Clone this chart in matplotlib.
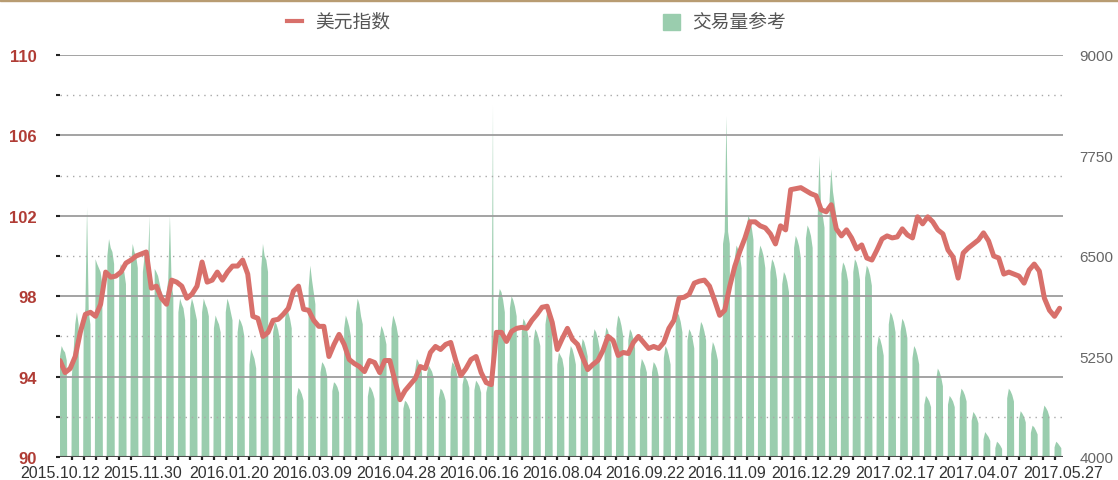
import numpy as np
import pandas as pd
import matplotlib
matplotlib.use("Agg")
import matplotlib.pyplot as plt
from matplotlib.lines import Line2D
from matplotlib.patches import Rectangle

# ---------------- data ----------------
start_date = "2015-10-12"
end_date = "2017-05-27"

x_labels = ["2015.10.12", "2015.11.30", "2016.01.20", "2016.03.09", "2016.04.28",
            "2016.06.16", "2016.08.04", "2016.09.22", "2016.11.09", "2016.12.29",
            "2017.02.17", "2017.04.07", "2017.05.27"]

# US dollar index, read every 3 days from 2015-10-12
dxy_values = [
    94.8, 94.2, 94.4, 95.0, 96.2, 97.1, 97.2, 97.0, 97.6, 99.2,
    98.95, 99.0, 99.2, 99.65, 99.8, 100.0, 100.1, 100.2, 98.4, 98.5,
    97.9, 97.6, 98.8, 98.7, 98.5, 97.9, 98.1, 98.5, 99.7, 98.7,
    98.8, 99.2, 98.8, 99.2, 99.5, 99.5, 99.8, 99.1, 97.0, 96.9,
    96.0, 96.2, 96.8, 96.85, 97.1, 97.4, 98.25, 98.5, 97.35, 97.3,
    96.8, 96.5, 96.5, 95.0, 95.6, 96.1, 95.6, 94.85, 94.65, 94.5,
    94.25, 94.8, 94.7, 94.2, 94.8, 94.8, 93.8, 92.85, 93.3, 93.6,
    93.9, 94.5, 94.4, 95.2, 95.5, 95.35, 95.6, 95.7, 94.8, 94.05,
    94.4, 94.85, 95.0, 94.2, 93.7, 93.6, 96.2, 96.2, 95.75, 96.25,
    96.4, 96.45, 96.4, 96.8, 97.1, 97.45, 97.5, 96.7, 95.35, 95.9,
    96.4, 95.85, 95.6, 94.95, 94.35, 94.6, 94.8, 95.3, 96.0, 95.8,
    95.05, 95.2, 95.15, 95.7, 96.0, 95.7, 95.4, 95.5, 95.4, 95.7,
    96.4, 96.8, 97.9, 97.95, 98.1, 98.65, 98.75, 98.8, 98.5, 97.8,
    97.05, 97.3, 98.5, 99.5, 100.25, 100.9, 101.7, 101.7, 101.5, 101.4,
    101.1, 100.6, 101.5, 101.3, 103.3, 103.35, 103.4, 103.25, 103.1, 103.0,
    102.3, 102.2, 102.55, 101.35, 101.0, 101.3, 100.9, 100.35, 100.55, 99.9,
    99.8, 100.3, 100.85, 101.0, 100.9, 100.95, 101.35, 101.05, 100.9, 101.95,
    101.6, 101.95, 101.7, 101.3, 101.1, 100.3, 99.95, 98.9, 100.15, 100.4,
    100.6, 100.8, 101.15, 100.75, 100.0, 99.9, 99.1, 99.2, 99.1, 99.0,
    98.65, 99.3, 99.6, 99.25, 97.9, 97.3, 97.0, 97.4,
]

# trading volume reference, Monday..Friday of every week from 2015-10-12
vol_weeks = [
    [5250, 5380, 5330, 5300, 5200], [5000, 5300, 5650, 5800, 5650],
    [5700, 5840, 7100, 5800, 5650], [6460, 6400, 6350, 6300, 6150],
    [6500, 6710, 6600, 6550, 6400], [6250, 6400, 6350, 6300, 6150],
    [6400, 6650, 6550, 6500, 6350], [6300, 6500, 6450, 6400, 7000],
    [6340, 6300, 6250, 6150, 6050], [6050, 6200, 7000, 6150, 6000],
    [5800, 5970, 5900, 5850, 5700], [5850, 5970, 5900, 5800, 5700],
    [5800, 5970, 5900, 5850, 5750], [5600, 5760, 5700, 5650, 5550],
    [5800, 5970, 5900, 5800, 5700], [5550, 5720, 5680, 5620, 5500],
    [5150, 5340, 5280, 5220, 5100], [6350, 6650, 6500, 6450, 6300],
    [5550, 5680, 5650, 5580, 5450], [5700, 5880, 5800, 5720, 5600],
    [4750, 4860, 4830, 4780, 4700], [6100, 6380, 6200, 6050, 5900],
    [5050, 5180, 5150, 5100, 5000], [4820, 4930, 4910, 4870, 4800],
    [5600, 5760, 5700, 5620, 5500], [5800, 5970, 5900, 5750, 5650],
    [4750, 4880, 4850, 4800, 4720], [5480, 5630, 5580, 5500, 5400],
    [5600, 5760, 5700, 5620, 5500], [4600, 4700, 4680, 4640, 4580],
    [5080, 5220, 5180, 5130, 5050], [5030, 5140, 5100, 5060, 4980],
    [4730, 4850, 4830, 4780, 4700], [5050, 5180, 5150, 5100, 5000],
    [4900, 5010, 4980, 4940, 4860], [4830, 4950, 4920, 4880, 4800],
    [4800, 4900, 4950, 4880, 8370], [5950, 6090, 6050, 5950, 5800],
    [5850, 6000, 5950, 5870, 5750], [5560, 5720, 5680, 5600, 5480],
    [5450, 5590, 5550, 5480, 5380], [5650, 5800, 5760, 5680, 5550],
    [5150, 5300, 5260, 5220, 5100], [5230, 5380, 5340, 5260, 5150],
    [5320, 5470, 5430, 5350, 5250], [5450, 5590, 5550, 5470, 5350],
    [5460, 5610, 5570, 5480, 5370], [5600, 5760, 5720, 5630, 5500],
    [5450, 5590, 5550, 5470, 5350], [5080, 5220, 5180, 5130, 5050],
    [5050, 5180, 5150, 5100, 5000], [5230, 5380, 5340, 5260, 5150],
    [5650, 5800, 5760, 5680, 5550], [5450, 5590, 5550, 5470, 5350],
    [5530, 5680, 5640, 5560, 5450], [5280, 5430, 5380, 5300, 5200],
    [6650, 6800, 8240, 6800, 6650], [6480, 6630, 6580, 6500, 6350],
    [6850, 7000, 6950, 6850, 6700], [6480, 6630, 6580, 6500, 6350],
    [6300, 6460, 6420, 6340, 6200], [6150, 6300, 6260, 6180, 6050],
    [6600, 6750, 6700, 6620, 6480], [6720, 6880, 6830, 6750, 6600],
    [7000, 7750, 7100, 7000, 6850], [7200, 7580, 7300, 7150, 7000],
    [6280, 6420, 6380, 6300, 6180], [6300, 6460, 6420, 6340, 6200],
    [6230, 6380, 6340, 6260, 6130], [5360, 5500, 5460, 5380, 5260],
    [5650, 5800, 5760, 5680, 5550], [5560, 5720, 5680, 5600, 5480],
    [5230, 5380, 5340, 5260, 5150], [4650, 4760, 4730, 4690, 4620],
    [4960, 5100, 5060, 4990, 4880], [4650, 4760, 4730, 4690, 4620],
    [4730, 4850, 4820, 4770, 4690], [4450, 4560, 4530, 4490, 4420],
    [4220, 4310, 4280, 4250, 4200], [4110, 4190, 4170, 4140, 4100],
    [4730, 4850, 4820, 4770, 4690], [4460, 4570, 4540, 4500, 4430],
    [4300, 4390, 4370, 4330, 4280], [4530, 4640, 4610, 4570, 4500],
    [4120, 4190, 4170, 4140, 4110],
]

left_ticks = [90, 94, 98, 102, 106, 110]
left_minor = [92, 96, 100, 104, 108]
right_ticks = [4000, 5250, 6500, 7750, 9000]

# ---------------- build series ----------------
days = pd.date_range(start_date, end_date, freq="D")
vol = np.zeros(len(days))
for i, d in enumerate(days):
    if d.weekday() < 5:
        w = (d - days[0]).days // 7
        vol[i] = vol_weeks[w][d.weekday()]
dxy_dates = pd.date_range(start_date, periods=len(dxy_values), freq="3D")
label_dates = pd.to_datetime([s.replace(".", "-") for s in x_labels])
week_marks = pd.date_range(start_date, end_date, freq="7D")

# ---------------- figure ----------------
plt.rcParams["font.family"] = ["Liberation Sans", "DejaVu Sans"]
W, H = 1118, 481
fig = plt.figure(figsize=(W / 100, H / 100), dpi=100)
fig.patch.set_facecolor("white")
L, R, T, B = 60, 1063, 56, 458
ax1 = fig.add_axes([L / W, 1 - B / H, (R - L) / W, (B - T) / H])
ax2 = ax1.twinx()

GREEN = "#9acdae"
RED = "#d8706b"

ax1.fill_between(days, vol, 0, color=GREEN, lw=0, zorder=1)
ax1.set_ylim(4000, 9000)
ax1.set_xlim(days[0], days[-1])
ax1.yaxis.tick_right()
ax1.set_yticks(right_ticks)
ax1.set_yticklabels([str(v) for v in right_ticks])
ax1.tick_params(axis="y", length=0, pad=12, labelsize=11, labelcolor="#666666")
ax1.set_xticks(label_dates)
ax1.set_xticklabels(x_labels)
ax1.set_xticks(week_marks, minor=True)
ax1.tick_params(axis="x", which="major", length=0, pad=6, labelsize=11.5,
                labelcolor="#333333")
ax1.tick_params(axis="x", which="minor", length=2, width=1.6, color="#222222",
                direction="out")
for s in ax1.spines.values():
    s.set_visible(False)

# DXY axis on the left, drawn on top
ax2.yaxis.tick_left()
ax2.set_ylim(90, 110)
for y in left_ticks[1:]:
    ax2.axhline(y, color="#9c9c9c", lw=1.3, zorder=1)
for y in left_minor:
    ax2.axhline(y, color="#a8a8a8", lw=1.0, ls=(0, (1, 3.5)), zorder=1)
ax2.axhline(90, color="#4a4a4a", lw=1.5, zorder=2)
ax2.plot(dxy_dates, dxy_values, color=RED, lw=3.6, solid_joinstyle="round",
         solid_capstyle="round", zorder=3)
ax2.set_yticks(left_ticks)
ax2.set_yticklabels([str(v) for v in left_ticks])
ax2.set_yticks(left_minor, minor=True)
ax2.tick_params(axis="y", which="both", length=3, width=1.5, color="#222222",
                pad=14, labelsize=12, labelcolor="#b03c35")
for lab in ax2.get_yticklabels():
    lab.set_fontweight("bold")
for s in ax2.spines.values():
    s.set_visible(False)
ax2.set_xlim(days[0], days[-1])

# legend (manual, figure coords)
fig.add_artist(Line2D([287 / W, 302 / W], [1 - 22 / H, 1 - 22 / H], color=RED, lw=3))
fig.text(315 / W, 1 - 22 / H, "美元指数", fontsize=13.5, color="#555555", va="center",
         family=["Noto Sans CJK SC", "DejaVu Sans"])
fig.add_artist(Rectangle((663 / W, 1 - 31 / H), 17 / W, 16 / H, color=GREEN,
                         transform=fig.transFigure))
fig.text(692 / W, 1 - 22 / H, "交易量参考", fontsize=13.5, color="#555555", va="center",
         family=["Noto Sans CJK SC", "DejaVu Sans"])

# top border
fig.add_artist(Rectangle((0, 1 - 2 / H), 1, 2 / H, color="#b89c72",
                         transform=fig.transFigure))

fig.savefig("out.png", dpi=100)
